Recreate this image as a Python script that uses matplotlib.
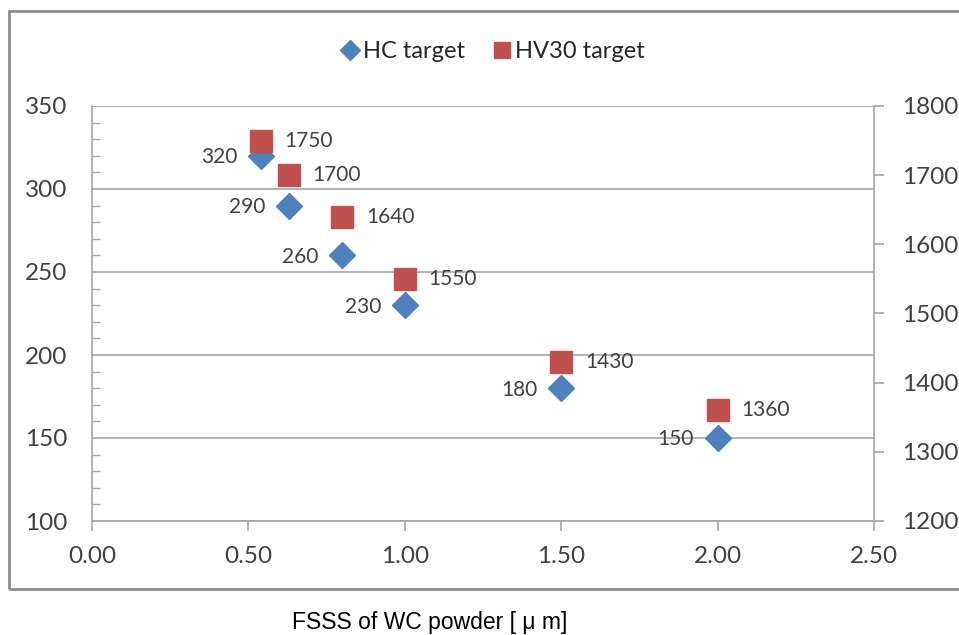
import numpy as np
import matplotlib
matplotlib.use("Agg")
import matplotlib.pyplot as plt
from matplotlib.patches import Rectangle
from matplotlib.ticker import MultipleLocator

# values
fsss = [0.54, 0.63, 0.80, 1.00, 1.50, 2.00]
hc_target = [320, 290, 260, 230, 180, 150]
hv30_target = [1750, 1700, 1640, 1550, 1430, 1360]
x_ticks = [0.0, 0.5, 1.0, 1.5, 2.0, 2.5]

blue = "#4F81BD"
red = "#C0504D"
grey = "#A6A6A6"
txt = "#404040"

plt.rcParams["font.family"] = ["Lato", "DejaVu Sans"]

fig = plt.figure(figsize=(9.59, 6.35), dpi=100)
ax = fig.add_axes([92 / 959, 1 - 521 / 635, 782 / 959, 415 / 635])
ax2 = ax.twinx()

# outer chart frame
fig.patches.append(Rectangle((9 / 959, 1 - 589 / 635), 1.0, 578 / 635, transform=fig.transFigure,
                             fill=False, edgecolor="#8C8C8C", linewidth=2.0))

h1, = ax.plot(fsss, hc_target, linestyle="none", marker="D", markersize=13,
              color=blue, label="HC target", zorder=3)
h2, = ax2.plot(fsss, hv30_target, linestyle="none", marker="s", markersize=15.5,
               color=red, label="HV30 target", zorder=3)

for x, y in zip(fsss, hc_target):
    ax.annotate(str(y), (x, y), xytext=(-17, -1), textcoords="offset points",
                ha="right", va="center", fontsize=15, color=txt)
for x, y in zip(fsss, hv30_target):
    ax2.annotate(str(y), (x, y), xytext=(17, 0), textcoords="offset points",
                 ha="left", va="center", fontsize=15, color=txt)

ax.set_xlim(0, 2.5)
ax.set_ylim(100, 350)
ax2.set_ylim(1200, 1800)
ax.set_xticks(x_ticks)
ax.set_xticklabels([f"{v:.2f}" for v in x_ticks])
ax.yaxis.set_major_locator(MultipleLocator(50))
ax.yaxis.set_minor_locator(MultipleLocator(10))
ax2.yaxis.set_major_locator(MultipleLocator(100))

ax.grid(axis="y", which="major", color=grey, linewidth=1.2)
ax.set_axisbelow(True)

for a in (ax, ax2):
    for s in a.spines.values():
        s.set_visible(False)
ax.spines["left"].set_visible(True)
ax.spines["left"].set_color(grey)
ax.spines["bottom"].set_visible(True)
ax.spines["bottom"].set_color(grey)
ax2.spines["right"].set_visible(True)
ax2.spines["right"].set_color(grey)
ax2.spines["right"].set_linewidth(1.2)
ax.spines["left"].set_linewidth(1.2)
ax.spines["bottom"].set_linewidth(1.2)

ax.tick_params(axis="x", direction="out", length=7, width=1.2, color=grey,
               labelsize=17.5, labelcolor=txt, pad=11)
ax.tick_params(axis="y", which="major", length=0, labelsize=17.5, labelcolor=txt, pad=18)
ax.tick_params(axis="y", which="minor", direction="in", length=6, width=1, color=grey)
ax2.tick_params(axis="y", direction="out", length=7, width=1.2, color=grey,
                labelsize=17.5, labelcolor=txt, pad=13)

leg = fig.legend(handles=[h1, h2], loc="center", bbox_to_anchor=(0.512, 1 - 52 / 635), ncol=2,
                 frameon=False, fontsize=17, handletextpad=0.0, columnspacing=1.0,
                 markerscale=0.75, handlelength=1.1)
for t in leg.get_texts():
    t.set_color("#262626")

fig.text(430 / 959, 1 - 622 / 635, "FSSS of WC powder [ \u03bc m]", ha="center", va="center",
         fontsize=16.5, family=["Liberation Sans", "DejaVu Sans"], color="black")

fig.savefig("out.png", dpi=100)
